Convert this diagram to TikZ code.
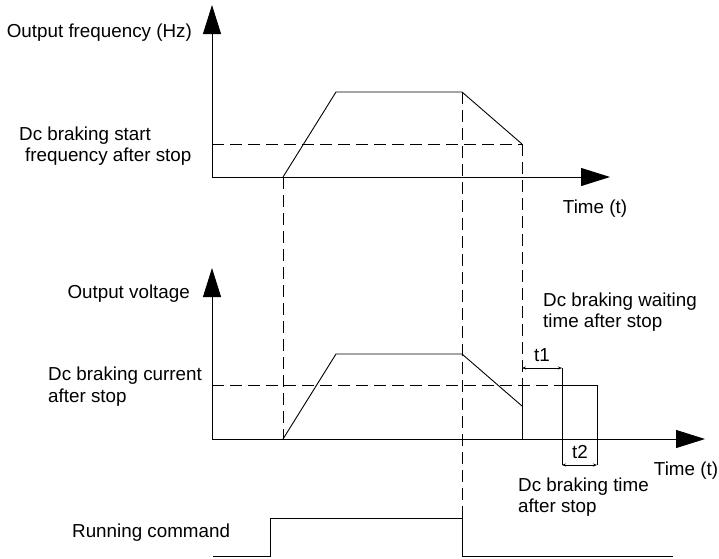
\documentclass[tikz,border=0pt]{standalone}
\usepackage{fontspec}
\setmainfont{Liberation Sans}
\usetikzlibrary{arrows.meta}

\begin{document}
\begin{tikzpicture}[x=1pt,y=-1pt,line cap=butt,line join=miter,
  axis/.style={line width=0.9pt,-{Triangle[length=29pt,width=18pt]}},
  curve/.style={line width=0.9pt},
  guide/.style={line width=0.9pt,dash pattern=on 12pt off 6pt},
  dim/.style={line width=0.7pt,{Stealth[length=4pt,width=3pt]}-{Stealth[length=4pt,width=3pt]}},
  lbl/.style={inner sep=0pt,font=\fontsize{18.8}{21.5}\selectfont}]
\path[use as bounding box] (0,0) rectangle (719,558);
% output frequency
\draw[axis] (212,177) -- (212,5);
\draw[axis] (212,177) -- (610,177);
\draw[curve] (283,177) -- (336,92) -- (462,92) -- (522,144);
\draw[guide] (212,144) -- (522,144);
% output voltage
\draw[axis] (212,439) -- (212,268);
\draw[axis] (212,439) -- (705,439);
\draw[curve] (283,439) -- (336,354) -- (462,354) -- (522,406);
\draw[guide] (212,385) -- (562,385);
\draw[curve] (522,385) -- (522,439);
\draw[curve] (562,385) -- (597,385) -- (597,465);
\draw[curve] (562,368) -- (562,465);
\draw[dim] (522,368) -- (562,368);
\draw[dim] (562,465) -- (597,465);
% running command
\draw[curve] (213,556) -- (270,556) -- (270,518) -- (462,518) -- (462,556) -- (673,556);
% vertical guides
\draw[guide] (283,177) -- (283,439);
\draw[guide] (462,92) -- (462,518);
\draw[guide] (522,144) -- (522,385);
% labels
\node[lbl,anchor=east] (freqlbl) at (192,33) {Output frequency (Hz)};
\node[lbl,anchor=west,align=left] (startlbl) at (19,146) {Dc braking start\\\hspace*{6pt}frequency after stop};
\node[lbl] (timetop) at (595,209) {Time (t)};
\node[lbl,anchor=east] (voltlbl) at (190,294) {Output voltage};
\node[lbl,anchor=west,align=left] (currentlbl) at (48,386.5) {Dc braking current\\after stop};
\node[lbl,anchor=west,align=left] (waitlbl) at (543,312) {Dc braking waiting\\time after stop};
\node[lbl] (t1lbl) at (542,355) {t1};
\node[lbl] (t2lbl) at (580,452) {t2};
\node[lbl] (timebot) at (686,471) {Time (t)};
\node[lbl,anchor=west,align=left] (brakelbl) at (518,497) {Dc braking time\\after stop};
\node[lbl,anchor=west] (runlbl) at (72,533) {Running command};
\end{tikzpicture}
\end{document}
